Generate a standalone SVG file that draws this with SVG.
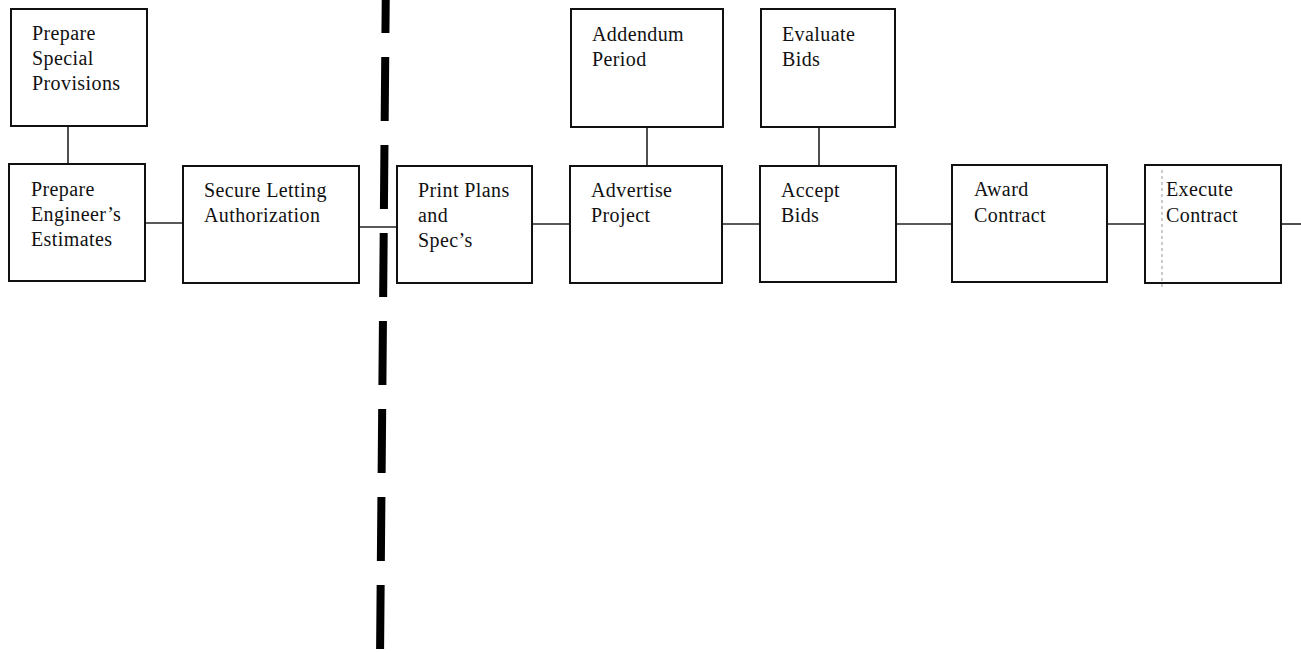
<svg xmlns="http://www.w3.org/2000/svg" width="1301" height="653" viewBox="0 0 1301 653">
<style>
.box{fill:#fff;stroke:#111;stroke-width:2}
.lbl{font-family:"Liberation Serif","Times New Roman",serif;font-size:20px;letter-spacing:0.4px;fill:#111}
.con{stroke:#222;stroke-width:1.6;fill:none}
</style>
<rect width="1301" height="653" fill="#fff"/>
<g id="connectors">
<line class="con" x1="68" y1="126" x2="68" y2="165"/>
<line class="con" x1="145" y1="223" x2="183" y2="223"/>
<line class="con" x1="359" y1="227" x2="397" y2="227"/>
<line class="con" x1="532" y1="224" x2="570" y2="224"/>
<line class="con" x1="647" y1="127" x2="647" y2="166"/>
<line class="con" x1="722" y1="224" x2="760" y2="224"/>
<line class="con" x1="819" y1="127" x2="819" y2="166"/>
<line class="con" x1="896" y1="224" x2="952" y2="224"/>
<line class="con" x1="1107" y1="224" x2="1145" y2="224"/>
<line class="con" x1="1281" y1="224" x2="1301" y2="224"/>
</g>
<g id="divider">
<line x1="386" y1="-31" x2="380" y2="660" stroke="#000" stroke-width="8" stroke-dasharray="64 24"/>
</g>
<g id="prepare-special-provisions">
<rect class="box" x="11" y="9" width="136" height="117"/>
<text class="lbl" x="32" y="40">Prepare</text>
<text class="lbl" x="32" y="65">Special</text>
<text class="lbl" x="32" y="90">Provisions</text>
</g>
<g id="prepare-engineers-estimates">
<rect class="box" x="9" y="164" width="136" height="117"/>
<text class="lbl" x="31" y="196">Prepare</text>
<text class="lbl" x="31" y="221">Engineer’s</text>
<text class="lbl" x="31" y="246">Estimates</text>
</g>
<g id="secure-letting-authorization">
<rect class="box" x="183" y="166" width="176" height="117"/>
<text class="lbl" x="204" y="197">Secure Letting</text>
<text class="lbl" x="204" y="222">Authorization</text>
</g>
<g id="print-plans-and-specs">
<rect class="box" x="397" y="166" width="135" height="117"/>
<text class="lbl" x="418" y="197">Print Plans</text>
<text class="lbl" x="418" y="222">and</text>
<text class="lbl" x="418" y="247">Spec’s</text>
</g>
<g id="addendum-period">
<rect class="box" x="571" y="9" width="152" height="118"/>
<text class="lbl" x="592" y="41">Addendum</text>
<text class="lbl" x="592" y="66">Period</text>
</g>
<g id="advertise-project">
<rect class="box" x="570" y="166" width="152" height="117"/>
<text class="lbl" x="591" y="197">Advertise</text>
<text class="lbl" x="591" y="222">Project</text>
</g>
<g id="evaluate-bids">
<rect class="box" x="761" y="9" width="134" height="118"/>
<text class="lbl" x="782" y="41">Evaluate</text>
<text class="lbl" x="782" y="66">Bids</text>
</g>
<g id="accept-bids">
<rect class="box" x="760" y="166" width="136" height="116"/>
<text class="lbl" x="781" y="197">Accept</text>
<text class="lbl" x="781" y="222">Bids</text>
</g>
<g id="award-contract">
<rect class="box" x="952" y="165" width="155" height="117"/>
<text class="lbl" x="974" y="196">Award</text>
<text class="lbl" x="974" y="222">Contract</text>
</g>
<g id="execute-contract">
<rect class="box" x="1145" y="165" width="136" height="118"/>
<line x1="1162" y1="170" x2="1162" y2="289" stroke="#999" stroke-width="1" stroke-dasharray="3 3"/>
<text class="lbl" x="1166" y="196">Execute</text>
<text class="lbl" x="1166" y="222">Contract</text>
</g>
</svg>
